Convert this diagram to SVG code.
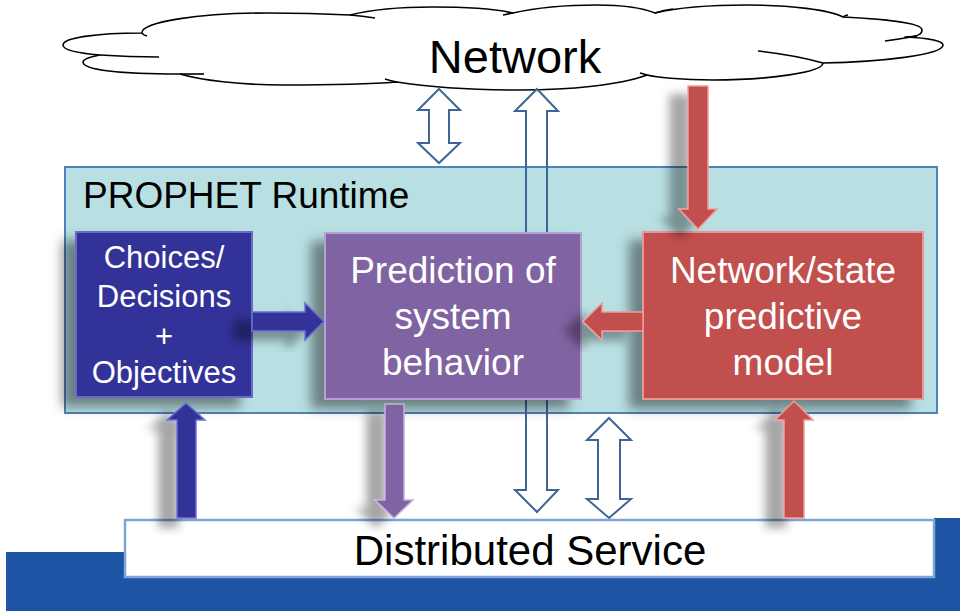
<svg xmlns="http://www.w3.org/2000/svg" width="960" height="611" viewBox="0 0 960 611">
<defs>
<style>
.t{font-family:"Liberation Sans",Arial,sans-serif;text-anchor:middle}
.w{fill:#ffffff}
.k{fill:#000000}
.outl{fill:none;stroke:#3d6595;stroke-width:2}
.stub{fill:none;stroke:#000;stroke-width:1.6}
</style>
<filter id="sh" x="-60%" y="-40%" width="200%" height="180%">
<feDropShadow dx="-13" dy="9" stdDeviation="6" flood-color="#000" flood-opacity="0.42"/>
</filter>
<filter id="sha" x="-150%" y="-30%" width="350%" height="160%">
<feDropShadow dx="-18" dy="9" stdDeviation="5" flood-color="#000" flood-opacity="0.35"/>
</filter>
</defs>
<rect width="960" height="611" fill="#fff"/>
<path d="M6,552 H934 V518 H960 V611 H6 Z" fill="#1d55a4"/>

<g id="network">
<path d="M63,45 C63,38 95,33 142,33 C140,22 200,13 267,13 C305,13 330,14 350,15 C370,10 400,7 432,7 C470,7 500,10 513,13 C535,8 565,5 597,5 C625,5 645,9 655,13 C680,7 715,5 747,5 C790,5 830,10 843,17 C880,19 922,22 922,30 C922,35 915,37 905,37 C930,38 943,41 943,45 C943,55 880,62 823,63 C823,72 770,80 713,80 C680,80 655,77 647,75 C620,85 570,90 520,90 C480,90 440,89 397,82 C360,85 320,85 283,85 C240,85 200,80 180,74 C120,74 83,70 83,62 C83,58 95,56 100,55 C75,53 63,50 63,45 Z" fill="#fff" stroke="#000" stroke-width="1.6" stroke-linejoin="round"/>
<path class="stub" d="M350,15 Q362,16 375,18"/>
<path class="stub" d="M142,33 Q143,35 147,36"/>
<path class="stub" d="M100,55 Q130,57 159,57"/>
<path class="stub" d="M180,74 Q192,74 204,74"/>
<path class="stub" d="M385,79 Q391,81 397,82"/>
<path class="stub" d="M513,13 Q508,14 503,15"/>
<path class="stub" d="M655,13 Q664,10 673,9"/>
<path class="stub" d="M843,17 Q846,15 848,15"/>
<path class="stub" d="M758,51 Q795,55 823,63"/>
<path class="stub" d="M885,41 Q900,39 917,36"/>
<path class="stub" d="M640,73 Q644,74 647,75"/>
<text class="t k" x="515" y="73" font-size="47">Network</text>
</g>

<g id="runtime">
<rect x="65" y="167" width="872" height="246" fill="#b8dfe2" stroke="#4f81bd" stroke-width="2"/>
<text x="83" y="208" font-size="37" font-family="Liberation Sans, Arial, sans-serif" fill="#000">PROPHET Runtime</text>
</g>

<g id="connectors">
<path class="outl" d="M439,89 L460,110 L449,110 L449,143 L460,143 L439,163 L418,143 L429,143 L429,110 L418,110 Z" style="fill:#fff"/>
<path class="outl" d="M537,89 L558,111 L547,111 L547,490 L558,490 L537,512 L515,490 L526,490 L526,111 L515,111 Z"/>
<path class="outl" d="M609,418 L631,440 L620,440 L620,499 L631,499 L609,518 L587,499 L598,499 L598,440 L587,440 Z" style="fill:#fff"/>
</g>

<g id="choices" filter="url(#sh)">
<rect x="76" y="232" width="176" height="165" fill="#333399" stroke="#6a6acb" stroke-width="2"/>
</g>
<g id="choices-text">
<text class="t w" x="164" y="268" font-size="31">Choices/</text>
<text class="t w" x="164" y="307" font-size="31">Decisions</text>
<text class="t w" x="164" y="347" font-size="31">+</text>
<text class="t w" x="164" y="383" font-size="31">Objectives</text>
</g>

<g id="prediction" filter="url(#sh)">
<rect x="325" y="233" width="256" height="166" fill="#8064a2" stroke="#b7a0d4" stroke-width="2"/>
</g>
<g id="prediction-text">
<text class="t w" x="453" y="283" font-size="37">Prediction of</text>
<text class="t w" x="453" y="329" font-size="37">system</text>
<text class="t w" x="453" y="375" font-size="37">behavior</text>
</g>

<g id="model" filter="url(#sh)">
<rect x="643" y="232" width="280" height="167" fill="#c0504d" stroke="#e99795" stroke-width="2"/>
</g>
<g id="model-text">
<text class="t w" x="783" y="283" font-size="37">Network/state</text>
<text class="t w" x="783" y="329" font-size="37">predictive</text>
<text class="t w" x="783" y="375" font-size="37">model</text>
</g>

<g id="service">
<rect x="125" y="520" width="809" height="57" fill="#fff" stroke="#7ea5d6" stroke-width="2.5"/>
<text class="t k" x="530" y="565" font-size="42">Distributed Service</text>
</g>

<g id="solid-arrows">
<path filter="url(#sha)" d="M252,312 H305 V303 L324,321.5 L305,340 V331 H252 Z" fill="#333399" stroke="#6f6fd2" stroke-width="1.5"/>
<path filter="url(#sha)" d="M643,312 H602 V303 L583,321.5 L602,340 V331 H643 Z" fill="#c0504d" stroke="#f29a98" stroke-width="1.5"/>
<path filter="url(#sha)" d="M688,86 H708 V209 H717 L698,229 L679,209 H688 Z" fill="#c0504d" stroke="#f29a98" stroke-width="1.5"/>
<path filter="url(#sha)" d="M177,518 V420 H167 L186,403 L205,420 H196 V518 Z" fill="#333399" stroke="#6f6fd2" stroke-width="1.5"/>
<path filter="url(#sha)" d="M385,404 H404 V500 H413 L394,518 L375,500 H385 Z" fill="#8064a2" stroke="#c3aee0" stroke-width="1.5"/>
<path filter="url(#sha)" d="M784,518 V420 H775 L794,401 L813,420 H804 V518 Z" fill="#c0504d" stroke="#f29a98" stroke-width="1.5"/>
</g>
</svg>
